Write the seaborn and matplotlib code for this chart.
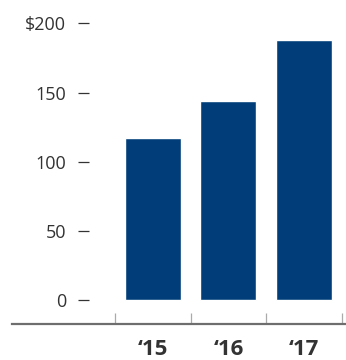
import matplotlib
matplotlib.use("Agg")
import matplotlib.pyplot as plt
import seaborn as sns
import pandas as pd

years = ["\u201815", "\u201816", "\u201817"]
values = [117, 144, 188]
y_ticks = [0, 50, 100, 150, 200]
y_labels = ["0", "50", "100", "150", "$200"]

sns.set_theme(style="white")
plt.rcParams["font.family"] = ["Open Sans", "DejaVu Sans"]

df = pd.DataFrame({"year": years, "value": values})

fig = plt.figure(figsize=(3.46, 3.6), dpi=100)
ax = fig.add_axes([12 / 346, 36 / 360, 334 / 346, 324 / 360])

sns.barplot(data=df, x="year", y="value", order=years, color="#003d79",
            width=0.74, saturation=1, ax=ax)

ax.set_xlim(-1.86, 2.553)
ax.set_ylim(-17.4, 217)
ax.set_xlabel("")
ax.set_ylabel("")

# y axis: free-floating dashes with labels, no visible spine
ax.spines["left"].set_position(("data", -0.843))
ax.spines["left"].set_visible(False)
ax.spines["right"].set_visible(False)
ax.spines["top"].set_visible(False)
ax.spines["bottom"].set_color("#6e6e6e")
ax.spines["bottom"].set_linewidth(1.6)
ax.set_yticks(y_ticks)
ax.set_yticklabels(y_labels)
ax.tick_params(axis="y", direction="out", length=7.9, width=0.9,
               color="#333333", pad=8.6, labelsize=13, labelcolor="#333333",
               left=True)

# x axis: bold year labels, separators between categories
ax.set_xticks([0, 1, 2])
ax.set_xticklabels(years, fontweight="bold")
ax.tick_params(axis="x", which="major", length=0, pad=11, labelsize=16,
               labelcolor="#333333")
ax.set_xticks([-0.5, 0.5, 1.5, 2.5], minor=True)
ax.tick_params(axis="x", which="minor", direction="in", length=7.9,
               width=0.9, color="#aaaaaa", bottom=True)

fig.savefig("out.png", dpi=100)
